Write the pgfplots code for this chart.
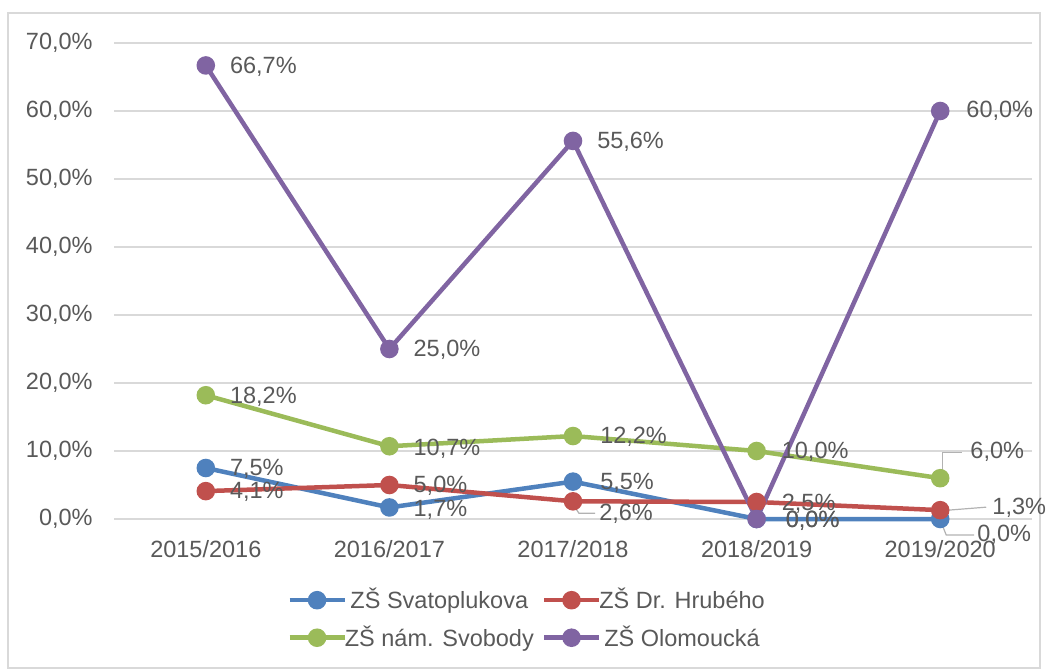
\documentclass[border=0pt]{standalone}
\usepackage{fontspec}
\setmainfont{Liberation Sans}
\usepackage{pgfplots}
\pgfplotsset{compat=1.18}
\usepackage{pgfplotstable}
\definecolor{cBlue}{HTML}{4F81BD}
\definecolor{cRed}{HTML}{C0504D}
\definecolor{cGreen}{HTML}{9BBB59}
\definecolor{cPurple}{HTML}{8064A2}
\definecolor{txt}{HTML}{595959}
\definecolor{gridc}{HTML}{D9D9D9}
\newcommand{\cf}{\fontsize{11.75}{14}\selectfont}

\pgfplotstableread{
x y dx dy
0 7.5 11 -0.5
1 1.7 11 -1
2 5.5 12.5 -0.5
3 0.0 13.5 -1
4 0.0 17.5 -8
}\svat
\pgfplotstableread{
x y dx dy
0 4.1 11 -0.5
1 5.0 11 -0.5
2 2.6 12 -6
3 2.5 11.5 -1
4 1.3 25 1
}\hrub
\pgfplotstableread{
x y dx dy
0 18.2 11 -1
1 10.7 11 -1.5
2 12.2 12.5 -0.5
3 10.0 11.5 -0.5
4 6.0 14 13
}\svob
\pgfplotstableread{
x y dx dy
0 66.7 11 -0.5
1 25.0 11 -0.5
2 55.6 11 -0.5
3 0.0 13.5 -1
4 60.0 12 0
}\olom

\begin{document}
\begin{tikzpicture}
\path (0,0) rectangle (524pt,334.5pt);
\draw[gridc, line width=0.6pt] (4pt,0.5pt) rectangle (520pt,328pt);
\begin{axis}[
  at={(57pt,75pt)}, anchor=south west,
  scale only axis, width=459pt, height=238pt,
  xmin=-0.5, xmax=4.5, ymin=0, ymax=70,
  xtick={0,1,2,3,4},
  xticklabels={2015/2016,2016/2017,2017/2018,2018/2019,2019/2020},
  ytick={0,10,...,70},
  yticklabel={\pgfmathprintnumber[fixed,fixed zerofill,precision=1,use comma]{\tick}\%},
  /pgf/number format/assume math mode=true,
  ymajorgrids, major grid style={gridc, line width=0.75pt},
  axis line style={draw=none},
  major tick length=0pt,
  tick label style={font=\cf, text=txt},
  xticklabel style={anchor=base, inner sep=0pt, yshift=-19.25pt},
  yticklabel style={anchor=east, inner sep=0pt, xshift=-10.5pt},
  every axis plot/.append style={line width=2.25pt, mark=*, mark size=3.5pt, mark options={solid}},
  visualization depends on={\thisrow{dx} \as \dx},
  visualization depends on={\thisrow{dy} \as \dy},
  nodes near coords={\pgfmathprintnumber[fixed,fixed zerofill,precision=1,use comma]{\pgfplotspointmeta}\%},
  nodes near coords style={anchor=west, inner sep=0pt, xshift=\dx pt, yshift=\dy pt, font=\cf, text=txt},
  point meta=y,
  legend columns=2,
  legend style={at={(0.451,-0.21)}, anchor=center, draw=none, fill=none, font=\cf, text=txt,
    /tikz/every odd column/.append style={column sep=-3pt},
    /tikz/every even column/.append style={column sep=2pt}, row sep=3pt},
  legend image code/.code={\draw[mark repeat=2,mark phase=2] plot coordinates {(0pt,0pt)(13.75pt,0pt)(27.5pt,0pt)};},
  clip=false,
]
\addplot[cBlue] table[x=x,y=y] {\svat};
\addlegendentry{ZŠ Svatoplukova}
\addplot[cRed] table[x=x,y=y] {\hrub};
\addlegendentry{ZŠ Dr. Hrubého}
\addplot[cGreen] table[x=x,y=y] {\svob};
\addlegendentry{ZŠ nám. Svobody}
\addplot[cPurple] table[x=x,y=y] {\olom};
\addlegendentry{ZŠ Olomoucká}
% leader lines
\draw[gray!60, line width=0.6pt] ([xshift=1pt,yshift=4pt]axis cs:4,6) -- ++(0pt,9pt) -- ++(10pt,0pt);
\draw[gray!60, line width=0.6pt] ([xshift=4pt,yshift=0pt]axis cs:4,1.3) -- ++(19pt,1.5pt);
\draw[gray!60, line width=0.6pt] ([xshift=1pt,yshift=-3pt]axis cs:2,2.6) -- ++(2pt,-3pt) -- ++(8pt,0pt);
\draw[gray!60, line width=0.6pt] ([xshift=1pt,yshift=-3pt]axis cs:4,0) -- ++(2pt,-5pt) -- ++(14pt,0pt);
\end{axis}
\end{tikzpicture}
\end{document}
